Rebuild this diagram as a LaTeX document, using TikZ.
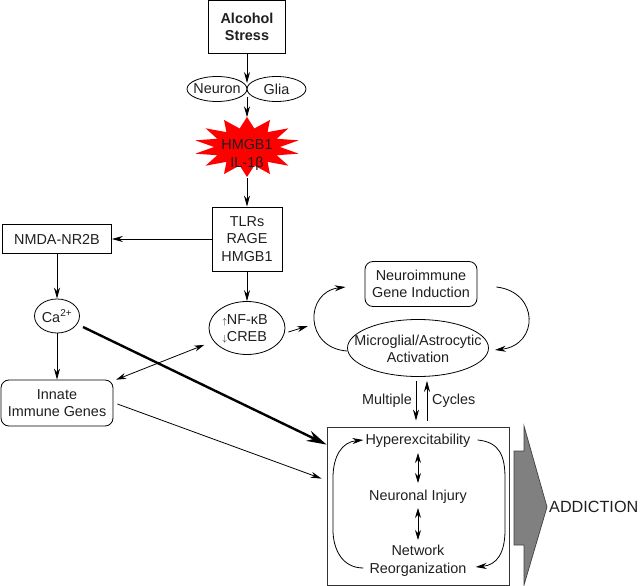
\documentclass[tikz,border=0pt]{standalone}
\usepackage{fontspec}
\setmainfont{Liberation Sans}
\usetikzlibrary{shapes.geometric,arrows.meta}
\begin{document}
\begin{tikzpicture}[x=1pt,y=-1pt,
  every node/.style={font=\fontsize{14.4}{17.5}\selectfont, inner sep=0pt, align=center, text=black!88},
  bx/.style={draw, line width=0.8pt, rectangle},
  rbx/.style={draw, line width=0.8pt, rectangle, rounded corners=8pt},
  ell/.style={draw, line width=0.8pt, ellipse},
  arr/.style={-{Stealth[length=11pt,width=6pt]}, line width=0.8pt},
  dbl/.style={{Stealth[length=10pt,width=6pt]}-{Stealth[length=10pt,width=6pt]}, line width=0.8pt},
  thk/.style={-{Stealth[length=20pt,width=11pt]}, line width=2.4pt},
]
\useasboundingbox (0,0) rectangle (641,586);

% top column
\node[bx, minimum width=77, minimum height=53, font=\fontsize{14.4}{17.5}\selectfont\bfseries] (alc) at (247,27) {Alcohol\\Stress};
\node[ell, minimum width=60, minimum height=25] (neuron) at (217,89) {};
\node (neurontxt) at (217,89) {Neuron};
\node[ell, minimum width=59, minimum height=25] (glia) at (276.5,89) {};
\node (gliatxt) at (276.5,89) {Glia};
\coordinate (jt) at (247,83);
\coordinate (jb) at (247,97);

\fill[red] plot[samples at={0,...,27}, variable=\k]
  ({247+ifthenelse(mod(\k,2)==0,53,33)*cos(\k*360/28+90)},
   {147+ifthenelse(mod(\k,2)==0,30,19)*sin(\k*360/28+90)}) -- cycle;
\node[minimum width=106, minimum height=60] (star) at (247,147.5) {};
\node (startxt) at (247,155) {HMGB1\\IL-1β};

\node[bx, minimum width=70, minimum height=64] (tlr) at (247,239) {TLRs\\RAGE\\HMGB1};
\node[bx, minimum width=109, minimum height=29] (nmda) at (57,239) {NMDA-NR2B};
\node[ell, minimum width=45, minimum height=34] (ca) at (57,316) {};
\node (catxt) at (57,316) {Ca\textsuperscript{2+}};
\node[rbx, minimum width=112, minimum height=46] (innate) at (57,403) {Innate\\Immune Genes};
\node[ell, minimum width=76, minimum height=53] (nfkb) at (247,328) {};
\node[align=left] (nfkbtxt) at (245,329) {{\fontsize{9}{9}\selectfont$\uparrow$}NF-κB\\[-1pt]{\fontsize{9}{9}\selectfont$\downarrow$}CREB};

% cycle
\node[rbx, minimum width=112, minimum height=45] (neuro) at (421,284) {Neuroimmune\\Gene Induction};
\node[ell, minimum width=141, minimum height=57] (micro) at (418,348) {};
\node (microtxt) at (418,349) {Microglial/Astrocytic\\Activation};

% box
\node[bx, draw=black!80, minimum width=182, minimum height=158] (box) at (418,506) {};
\node (hyper) at (418,441) {Hyperexcitability};
\node (injury) at (418,497) {Neuronal Injury};
\node (network) at (418,561) {Network\\Reorganization};

\node[anchor=east] (mult) at (412,401) {Multiple};
\node[anchor=west] (cyc) at (432,401) {Cycles};

% grey arrow
\filldraw[fill=black!50, draw=black!75, line width=0.7pt]
  (514,451) -- (524,451) -- (524,426) -- (547,507) -- (524,585) -- (524,545) -- (514,545) -- cycle;
\node[anchor=west, font=\fontsize{16.2}{19}\selectfont] (add) at (549,507) {ADDICTION};

% connectors
\draw[arr] (alc.south) -- (jt);
\draw[arr] (jb) -- (star.north);
\draw[arr] (star.south) -- (tlr.north);
\draw[arr] (tlr.west) -- (nmda.east);
\draw[arr] (nmda.south) -- (ca.north);
\draw[arr] (ca.south) -- (innate.north);
\draw[arr] (tlr.south) -- (nfkb.north);
\draw[dbl, shorten >=10pt, shorten <=3pt] (innate) -- (nfkb);
\coordinate (cin) at (308,326);
\draw[arr] ([shift={(3,4)}]nfkb.east) -- (cin);
\draw[thk] ([shift={(26,11)}]ca.center) -- ([shift={(0,18)}]box.north west);
\draw[arr] ([shift={(4,1)}]innate.east) -- ([shift={(-5,52)}]box.north west);

% cycle arcs
\draw[arr] ([shift={(0,3)}]micro.west) .. controls +(-43,-3) and +(-41,5) .. ([shift={(-19,3)}]neuro.west);
\draw[arr] ([shift={(19,3)}]neuro.east) .. controls +(43,5) and +(44,-5) .. ([shift={(6,2)}]micro.east);

% multiple cycles
\draw[arr] ([shift={(-2,4)}]micro.south) -- ([shift={(-2,-6)}]box.north);
\draw[arr] ([shift={(9,-6)}]box.north) -- ([shift={(9,4)}]micro.south);

% box inner
\draw[dbl] ([shift={(0,12)}]hyper.center) -- ([shift={(0,-14)}]injury.center);
\draw[dbl] ([shift={(0,11)}]injury.center) -- ([shift={(0,-21)}]network.center);
\draw[arr] ([shift={(-6,7)}]network.west) .. controls +(-22,0) and +(0,18) .. (333,530) -- (333,478)
   .. controls (333,456) and (342,442) .. ([shift={(-2,-1)}]hyper.west);
\draw[arr] ([shift={(7,-1)}]hyper.east) .. controls +(22,2) and +(0,-22) .. (505,478) -- (505,530)
   .. controls (505,553) and (497,565) .. ([shift={(9,6)}]network.east);
\end{tikzpicture}
\end{document}
